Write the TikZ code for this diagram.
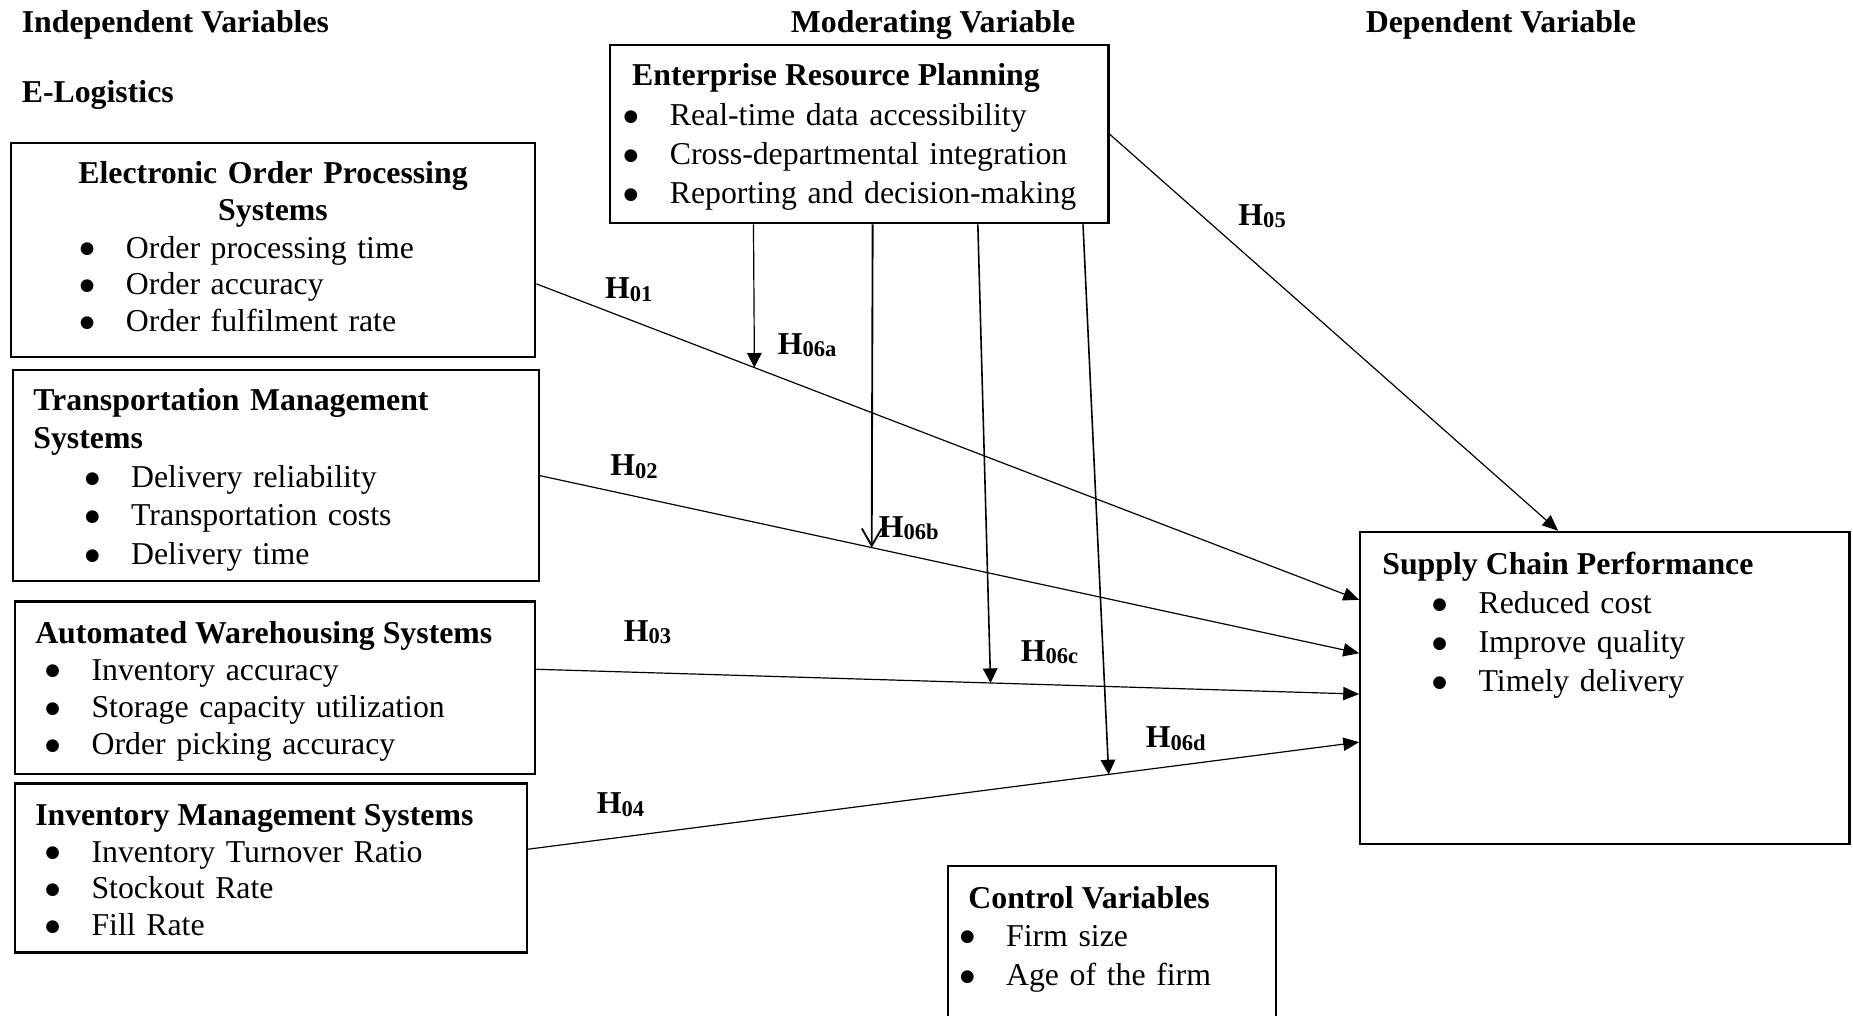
\documentclass[tikz,border=0pt]{standalone}
\usepackage{fontspec}
\setmainfont{Liberation Serif}
\newfontfamily\bulfont{DejaVu Sans}
\usetikzlibrary{arrows.meta,calc,fit}

\newcommand{\bul}[1]{\makebox[17.8pt][l]{\hspace*{0.4pt}\raisebox{1.6pt}{\bulfont\fontsize{6.3}{7}\selectfont ●}}#1}
\newcommand{\hypo}[1]{\textbf{H\raisebox{-0.9pt}{\fontsize{8.5}{9}\selectfont #1}}}

\tikzset{
	box/.style={draw, line width=0.8pt, inner sep=0pt},
	hd/.style={font=\fontsize{12}{14}\selectfont\bfseries, inner sep=0pt, anchor=base west},
	ttl/.style={font=\fontsize{12}{14.2}\selectfont\bfseries, inner sep=0pt, anchor=base west},
	lst/.style={font=\fontsize{12}{#1}\selectfont, inner sep=0pt, text width=7cm, align=left, anchor=base west},
	lst/.default=14pt,
	hlab/.style={font=\fontsize{12}{14}\selectfont, inner sep=0pt},
	conn/.style={line width=0.45pt, -{Triangle[length=6pt,width=5pt]}},
	modr/.style={line width=0.6pt, -{Triangle[length=5.5pt,width=5.5pt]}}
}

\begin{document}
\begin{tikzpicture}[x=1.567cm, y=1.567cm]
				\useasboundingbox (0,0) rectangle (15.68,-8.59);
				\node (indep) at (0.18,-0.275) [hd] {Independent Variables};
				\node (elog) at (0.18,-0.87) [hd] {E-Logistics};
				\node (moder) at (7.895,-0.275) [hd, anchor=base] {Moderating Variable};
				\node (depen) at (12.70,-0.275) [hd, anchor=base] {Dependent Variable};

				\node (eops) [box, fit={(0.09,-1.21) (4.53,-3.02)}] {};
				\node (tms) [box, fit={(0.11,-3.13) (4.56,-4.92)}] {};
				\node (aws) [box, fit={(0.13,-5.09) (4.53,-6.55)}] {};
				\node (ims) [box, fit={(0.13,-6.63) (4.46,-8.06)}] {};
				\node (erp) [box, fit={(5.16,-0.38) (9.38,-1.89)}] {};
				\node (scp) [box, fit={(11.51,-4.50) (15.65,-7.14)}] {};
				\node (ctrl) [box, fit={(8.02,-7.33) (10.80,-9.00)}] {};

				\node (eopsT) at (2.31,-1.555) [ttl, font=\fontsize{12}{13.8}\selectfont\bfseries, text width=6.5cm, align=center, anchor=base] {Electronic Order Processing\\Systems};
				\node (eopsL) at (0.662,-2.185) [lst=13.8pt] {\bul{Order processing time}\\\bul{Order accuracy}\\\bul{Order fulfilment rate}};
				\node (tmsT) at (0.278,-3.475) [ttl, text width=6.5cm, align=left] {Transportation Management\\Systems};
				\node (tmsL) at (0.706,-4.125) [lst=14.5pt] {\bul{Delivery reliability}\\\bul{Transportation costs}\\\bul{Delivery time}};
				\node (awsT) at (0.294,-5.445) [ttl] {Automated Warehousing Systems};
				\node (awsL) at (0.371,-5.755) [lst=14.1pt] {\bul{Inventory accuracy}\\\bul{Storage capacity utilization}\\\bul{Order picking accuracy}};
				\node (imsT) at (0.294,-6.985) [ttl] {Inventory Management Systems};
				\node (imsL) at (0.371,-7.295) [lst=13.9pt] {\bul{Inventory Turnover Ratio}\\\bul{Stockout Rate}\\\bul{Fill Rate}};
				\node (erpT) at (5.345,-0.725) [ttl] {Enterprise Resource Planning};
				\node (erpL) at (5.264,-1.065) [lst=14.7pt] {\bul{Real-time data accessibility}\\\bul{Cross-departmental integration}\\\bul{Reporting and decision-making}};
				\node (scpT) at (11.693,-4.865) [ttl] {Supply Chain Performance};
				\node (scpL) at (12.108,-5.195) [lst=14.7pt] {\bul{Reduced cost}\\\bul{Improve quality}\\\bul{Timely delivery}};
				\node (ctrlT) at (8.19,-7.685) [ttl] {Control Variables};
				\node (ctrlL) at (8.11,-8.005) [lst=14.9pt] {\bul{Firm size}\\\bul{Age of the firm}};

				\coordinate (a1) at ($(eops.north east)!0.657!(eops.south east)$);
				\coordinate (b1) at ($(scp.north west)!0.22!(scp.south west)$);
				\coordinate (a2) at (tms.east);
				\coordinate (b2) at ($(scp.north west)!0.39!(scp.south west)$);
				\coordinate (a3) at ($(aws.north east)!0.394!(aws.south east)$);
				\coordinate (b3) at ($(scp.north west)!0.52!(scp.south west)$);
				\coordinate (a4) at ($(ims.north east)!0.39!(ims.south east)$);
				\coordinate (b4) at ($(scp.north west)!0.673!(scp.south west)$);
				\draw[conn] (a1) -- (b1);
				\draw[conn] (a2) -- (b2);
				\draw[conn] (a3) -- (b3);
				\draw[conn] (a4) -- (b4);
				\draw[conn] (erp.east) -- ($(scp.north west)!0.405!(scp.north east)$);

				\draw[modr, line width=0.45pt] ($(erp.south west)!0.289!(erp.south east)$) -- ($(a1)!0.265!(b1)$);
				\draw[line width=0.7pt, -{Straight Barb[length=6.5pt,width=7.5pt]}] ($(erp.south west)!0.527!(erp.south east)$) -- ($(a2)!0.405!(b2)$);
				\draw[modr] ($(erp.south west)!0.737!(erp.south east)$) -- ($(a3)!0.552!(b3)$);
				\draw[modr] ($(erp.south west)!0.947!(erp.south east)$) -- ($(a4)!0.6986!(b4)$);

				\node (l1) at (5.32,-2.45) [hlab] {\hypo{01}};
				\node (l2) at (5.365,-3.95) [hlab] {\hypo{02}};
				\node (l3) at (5.48,-5.35) [hlab] {\hypo{03}};
				\node (l4) at (5.25,-6.81) [hlab] {\hypo{04}};
				\node (l5) at (10.68,-1.83) [hlab] {\hypo{05}};
				\node (l6a) at (6.83,-2.92) [hlab] {\hypo{06a}};
				\node (l6b) at (7.69,-4.47) [hlab] {\hypo{06b}};
				\node (l6c) at (8.88,-5.52) [hlab] {\hypo{06c}};
				\node (l6d) at (9.95,-6.25) [hlab] {\hypo{06d}};
			\end{tikzpicture}
\end{document}
